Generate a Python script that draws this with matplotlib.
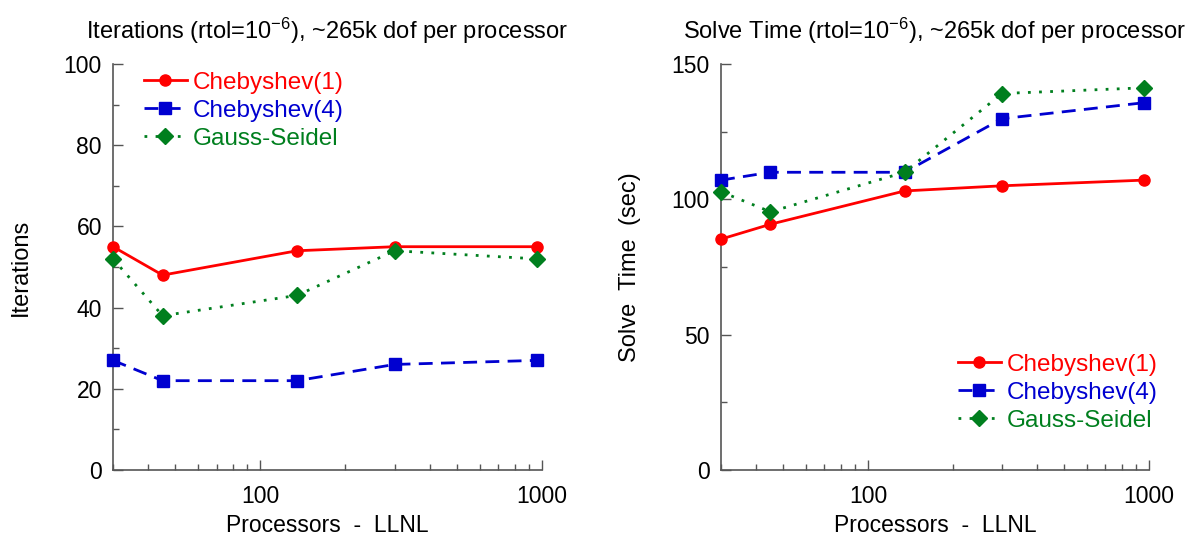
import matplotlib
matplotlib.use("Agg")
import matplotlib.pyplot as plt
from matplotlib.ticker import LogLocator, NullFormatter, FixedLocator, MultipleLocator

plt.rcParams['font.family'] = ['Liberation Sans', 'DejaVu Sans']
plt.rcParams['mathtext.default'] = 'regular'

processors = [30, 45, 135, 300, 960]
series_names = ["Chebyshev(1)", "Chebyshev(4)", "Gauss-Seidel"]

iter_cheb1 = [55, 48, 54, 55, 55]
iter_cheb4 = [27, 22, 22, 26, 27]
iter_gs = [52, 38, 43, 54, 52]

time_cheb1 = [85.3, 90.8, 103.1, 105.0, 107.1]
time_cheb4 = [107.1, 110.0, 110.0, 129.8, 135.7]
time_gs = [102.8, 95.4, 110.0, 139.1, 141.2]

colors = ['#ff0000', '#0000d0', '#007f1e']
markers = ['o', 's', 'D']
styles = ['-', (0, (5, 3)), (0, (1, 3))]
msizes = [8, 8.5, 8.5]

fig = plt.figure(figsize=(11.85, 5.38), dpi=100)
W, H = 1185, 538
ax1 = fig.add_axes([113 / W, 1 - 470 / H, (542 - 113) / W, (470 - 64) / H])
ax2 = fig.add_axes([721 / W, 1 - 470 / H, (1149 - 721) / W, (470 - 64) / H])


def style_axis(ax, ymax, ymajor, yminor):
    ax.set_xscale('log')
    ax.set_xlim(30, 1000)
    ax.set_ylim(0, ymax)
    ax.xaxis.set_major_locator(FixedLocator([100, 1000]))
    ax.xaxis.set_minor_locator(LogLocator(base=10, subs=range(2, 10)))
    ax.xaxis.set_minor_formatter(NullFormatter())
    ax.set_xticklabels(['100', '1000'])
    ax.yaxis.set_major_locator(MultipleLocator(ymajor))
    ax.yaxis.set_minor_locator(MultipleLocator(yminor))
    for s in ['top', 'right']:
        ax.spines[s].set_visible(False)
    for s in ['left', 'bottom']:
        ax.spines[s].set_color('#555555')
        ax.spines[s].set_linewidth(1.2)
    ax.tick_params(which='major', direction='in', length=7, width=1.0, color='#555555',
                   labelsize=16.5, pad=8)
    ax.tick_params(which='minor', direction='in', length=4, width=1.0, color='#555555')
    ax.tick_params(axis='x', which='major', pad=11)


def plot_series(ax, data):
    for name, ys, c, m, ls, ms in zip(series_names, data, colors, markers, styles, msizes):
        ax.plot(processors, ys, color=c, marker=m, linestyle=ls, linewidth=2,
                markersize=ms, label=name, clip_on=False, zorder=3)


def add_legend(ax, **kw):
    leg = ax.legend(frameon=False, fontsize=17.5, handlelength=1.75, handletextpad=0.25,
                    labelspacing=0.25, borderaxespad=0, **kw)
    for t, c in zip(leg.get_texts(), colors):
        t.set_color(c)
    return leg


plot_series(ax1, [iter_cheb1, iter_cheb4, iter_gs])
style_axis(ax1, 100, 20, 10)
ax1.set_ylabel('Iterations', fontsize=17)
ax1.yaxis.set_label_coords(-0.189, 0.5)
ax1.set_xlabel('Processors  -  LLNL', fontsize=16.5, labelpad=4)
ax1.set_title('Iterations (rtol=10$^{-6}$), ~265k dof per processor', fontsize=17, pad=18)
add_legend(ax1, loc='upper left', bbox_to_anchor=(0.05, 1.005))

plot_series(ax2, [time_cheb1, time_cheb4, time_gs])
style_axis(ax2, 150, 50, 25)
ax2.set_ylabel('Solve  Time  (sec)', fontsize=17)
ax2.yaxis.set_label_coords(-0.187, 0.5)
ax2.set_xlabel('Processors  -  LLNL', fontsize=16.5, labelpad=4)
ax2.set_title('Solve Time (rtol=10$^{-6}$), ~265k dof per processor', fontsize=17, pad=18)
add_legend(ax2, loc='lower right', bbox_to_anchor=(1.043, 0.07))

fig.savefig('out.png', dpi=100)
